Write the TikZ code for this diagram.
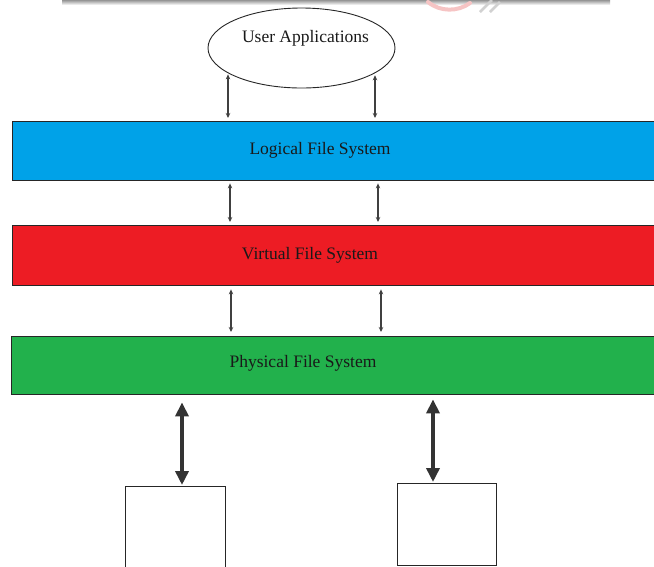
\documentclass[tikz,border=0pt]{standalone}
\usepackage{fontspec}
\setmainfont{Liberation Serif}
\usetikzlibrary{arrows.meta,shapes.geometric}
\definecolor{lfsblue}{HTML}{00A2E8}
\definecolor{vfsred}{HTML}{ED1C24}
\definecolor{pfsgreen}{HTML}{22B14C}
\definecolor{edge}{HTML}{262626}
\definecolor{shade}{HTML}{FAFAFA}
\definecolor{pinkmark}{HTML}{F6C4C4}

\begin{document}
\begin{tikzpicture}[x=1pt,y=-1pt,
  layer/.style={draw=edge, line width=1.4pt, minimum width=700pt,
    anchor=north west, inner sep=0pt},
  laytext/.style={font=\fontsize{17.5}{20}\selectfont, inner sep=0pt, text=black!90},
  link/.style={{Stealth[length=5pt,width=4.5pt]}-{Stealth[length=5pt,width=4.5pt]},
    line width=1.4pt, draw=black!75},
  bus/.style={{Triangle[length=14pt,width=13pt]}-{Triangle[length=14pt,width=13pt]},
    line width=4pt, draw=black!80},
  device/.style={draw=edge, line width=1pt, fill=white, anchor=north west,
    inner sep=0pt}
]
\useasboundingbox (0,0) rectangle (654,566);
\clip (0,0) rectangle (654,566);

% faint strip and mark along the top edge
\fill[shade] (62,-1) rectangle (610,5);
\draw[pinkmark, line width=4pt, line cap=round] (428,2) .. controls (440,12) and (458,12) .. (470,3);
\draw[black!18, line width=2.5pt] (480,12) -- (492,0) (490,12) -- (500,2);

% user applications
\node[draw=black!85, line width=0.9pt, ellipse, minimum width=187pt,
  minimum height=80pt, inner sep=0pt] (ua) at (301.5,48) {};
\node[laytext] (uat) at (305.5,38.5) {User Applications};

% file system layers
\node[layer, fill=lfsblue, minimum height=59pt] (lfs) at (12,121) {};
\node[layer, fill=vfsred, minimum height=60pt] (vfs) at (12,225) {};
\node[layer, fill=pfsgreen, minimum height=58pt] (pfs) at (11,336) {};
\node[laytext] (lfst) at (320,150.5) {Logical File System};
\node[laytext] (vfst) at (310,255.5) {Virtual File System};
\node[laytext] (pfst) at (303,363.5) {Physical File System};

% storage devices
\node[device, minimum width=100pt, minimum height=100pt] (dev1) at (125,486) {};
\node[device, minimum width=99pt, minimum height=82pt] (dev2) at (397,483) {};

% arrow columns
\coordinate (c1l) at (228,0);
\coordinate (c1r) at (375,0);
\coordinate (c2l) at (230,0);
\coordinate (c2r) at (378,0);
\coordinate (c3l) at (231,0);
\coordinate (c3r) at (381,0);
\coordinate (c4l) at (182,0);
\coordinate (c4r) at (433,0);

% connectors
\draw[link, shorten <=2pt, shorten >=3pt] (ua.198.6 -| c1l) -- (lfs.north -| c1l);
\draw[link, shorten <=2pt, shorten >=3pt] (ua.341.4 -| c1r) -- (lfs.north -| c1r);
\draw[link, shorten <=2pt, shorten >=3pt] (lfs.south -| c2l) -- (vfs.north -| c2l);
\draw[link, shorten <=2pt, shorten >=3pt] (lfs.south -| c2r) -- (vfs.north -| c2r);
\draw[link, shorten <=3pt, shorten >=4pt] (vfs.south -| c3l) -- (pfs.north -| c3l);
\draw[link, shorten <=3pt, shorten >=4pt] (vfs.south -| c3r) -- (pfs.north -| c3r);
\draw[bus, shorten <=7pt, shorten >=1pt] (pfs.south -| c4l) -- (dev1.north -| c4l);
\draw[bus, shorten <=4pt, shorten >=1pt] (pfs.south -| c4r) -- (dev2.north -| c4r);
\end{tikzpicture}
\end{document}
